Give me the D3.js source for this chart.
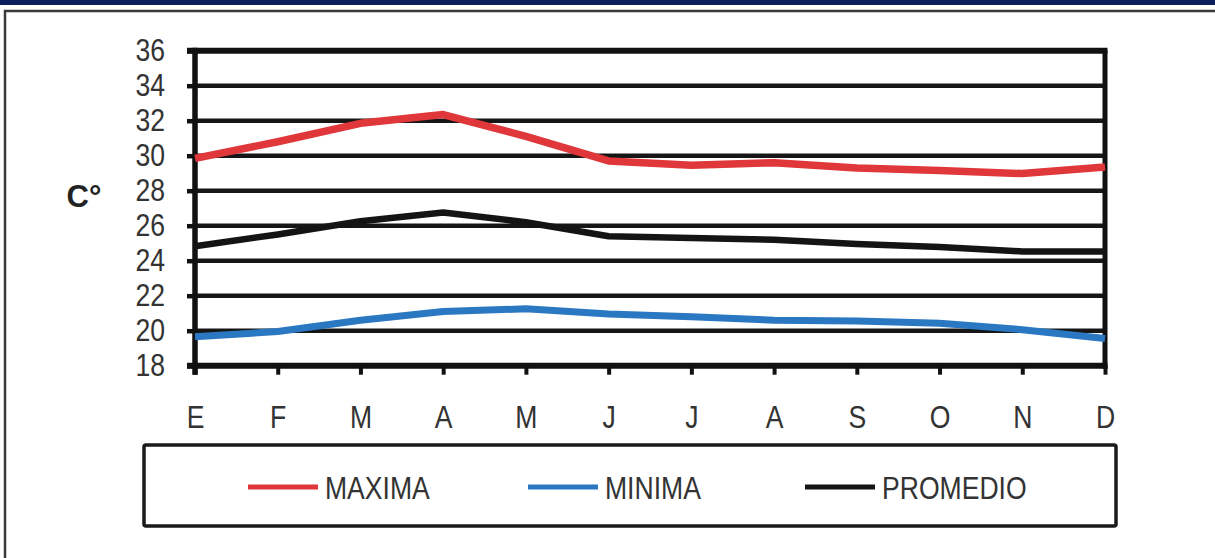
<!DOCTYPE html>
<html>
<head>
<meta charset="utf-8">
<script src="https://cdn.jsdelivr.net/npm/d3@7"></script>
<style>
  body { margin: 0; background: #fff; }
  svg { display: block; }
</style>
</head>
<body>
<script>
const months = ["E", "F", "M", "A", "M", "J", "J", "A", "S", "O", "N", "D"];
const maxima = [29.85, 30.8, 31.85, 32.35, 31.1, 29.7, 29.45, 29.6, 29.3, 29.15, 28.98, 29.35];
const minima = [19.65, 19.95, 20.6, 21.1, 21.25, 20.95, 20.8, 20.6, 20.55, 20.42, 20.06, 19.55];
const promedio = [24.83, 25.5, 26.25, 26.75, 26.2, 25.4, 25.3, 25.2, 24.95, 24.78, 24.53, 24.53];
const yTicks = [18, 20, 22, 24, 26, 28, 30, 32, 34, 36];

const series = [
  {name: "MAXIMA", values: maxima, color: "#e0373b", width: 7.5},
  {name: "MINIMA", values: minima, color: "#2b78c2", width: 7},
  {name: "PROMEDIO", values: promedio, color: "#141414", width: 6.5}
];

const W = 1215, H = 558;
const font = "'Liberation Sans', Arial, sans-serif";

const svg = d3.select("body")
  .append("svg")
  .attr("width", W)
  .attr("height", H);

// page frame
svg.append("rect").attr("x", 0).attr("y", 0).attr("width", W).attr("height", 5).attr("fill", "#0b1f5c");
svg.append("path")
  .attr("d", `M5,${H} V11 H${W}`)
  .attr("fill", "none")
  .attr("stroke", "#3a3a3a")
  .attr("stroke-width", 2.5);

const x = d3.scaleLinear().domain([0, months.length - 1]).range([195, 1105]);
const y = d3.scaleLinear().domain([18, 36]).range([365.7, 50.7]);

// grid lines
svg.append("g")
  .selectAll("line")
  .data(yTicks.filter(d => d > 18 && d < 36))
  .enter()
  .append("line")
  .attr("x1", x(0))
  .attr("x2", x(11))
  .attr("y1", d => y(d))
  .attr("y2", d => y(d))
  .attr("stroke", "#161616")
  .attr("stroke-width", 4.5);

// top border and right border
svg.append("line")
  .attr("x1", 187).attr("x2", x(11) + 2.5)
  .attr("y1", y(36)).attr("y2", y(36))
  .attr("stroke", "#111").attr("stroke-width", 6);
svg.append("line")
  .attr("x1", x(11)).attr("x2", x(11))
  .attr("y1", y(36)).attr("y2", y(18) + 3)
  .attr("stroke", "#111").attr("stroke-width", 5);

// y axis
const yAxis = svg.append("g")
  .attr("transform", `translate(${x(0)},0)`)
  .call(d3.axisLeft(y).tickValues(yTicks).tickSize(8).tickPadding(22));
yAxis.select(".domain").attr("stroke", "#111").attr("stroke-width", 5.5)
  .attr("d", `M0,${y(18) + 9}V${y(36) - 3}`);
yAxis.selectAll(".tick line").attr("stroke", "#111").attr("stroke-width", 4.5);
yAxis.selectAll(".tick text")
  .attr("class", "narrow")
  .attr("font-family", font).attr("font-size", 32).attr("fill", "#333");

// x axis
const xAxis = svg.append("g")
  .attr("transform", `translate(0,${y(18)})`)
  .call(d3.axisBottom(x).tickValues(d3.range(months.length)).tickFormat(i => months[i]).tickSize(9).tickPadding(31));
xAxis.select(".domain").attr("stroke", "#111").attr("stroke-width", 6)
  .attr("d", `M187,0H${x(11) + 2.5}`);
xAxis.selectAll(".tick line").attr("stroke", "#111").attr("stroke-width", 4);
xAxis.selectAll(".tick text")
  .attr("class", "narrow")
  .attr("font-family", font).attr("font-size", 32).attr("fill", "#333");

// y label
svg.append("text")
  .attr("x", 84).attr("y", 207)
  .attr("text-anchor", "middle")
  .attr("font-family", font)
  .attr("font-weight", "bold")
  .attr("font-size", 31)
  .attr("fill", "#222")
  .text("C°");

// series lines
const line = d3.line().x((d, i) => x(i)).y(d => y(d));
svg.append("g")
  .selectAll("path")
  .data(series)
  .enter()
  .append("path")
  .attr("d", d => line(d.values))
  .attr("fill", "none")
  .attr("stroke", d => d.color)
  .attr("stroke-width", d => d.width)
  .attr("stroke-linejoin", "round");

// legend
svg.append("rect")
  .attr("x", 144).attr("y", 445)
  .attr("width", 972).attr("height", 81)
  .attr("rx", 2)
  .attr("fill", "#fff")
  .attr("stroke", "#1a1a1a")
  .attr("stroke-width", 3.5);

const legendX = [248, 528, 805];
const item = svg.append("g")
  .selectAll("g")
  .data(series)
  .enter()
  .append("g")
  .attr("transform", (d, i) => `translate(${legendX[i]},487)`);
item.append("line")
  .attr("x1", 0).attr("x2", 70)
  .attr("stroke", d => d.color)
  .attr("stroke-width", 5);
item.append("text")
  .attr("class", "narrow")
  .attr("x", 77).attr("y", 11.5)
  .attr("font-family", font).attr("font-size", 32).attr("fill", "#333")
  .text(d => d.name);

// squeeze text horizontally, like a narrow face
svg.selectAll("text.narrow").each(function() {
  const len = this.getComputedTextLength();
  d3.select(this).attr("textLength", len * 0.83).attr("lengthAdjust", "spacingAndGlyphs");
});
</script>
</body>
</html>
